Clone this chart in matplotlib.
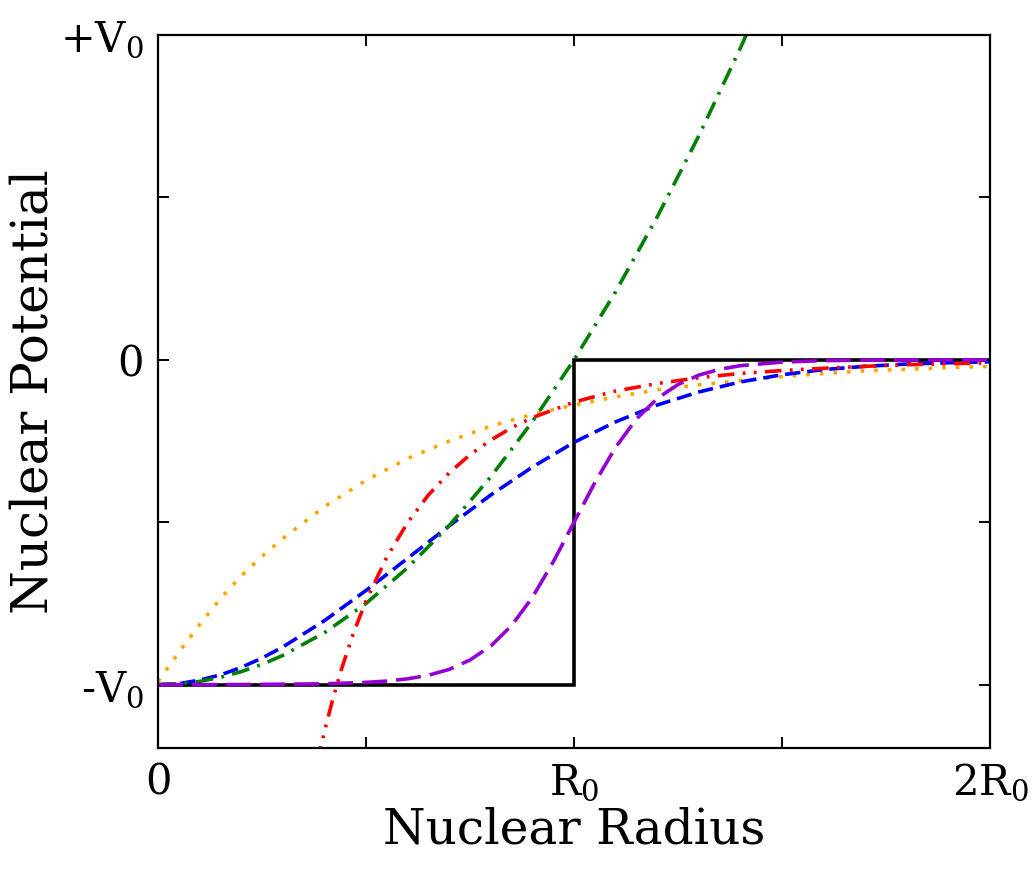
import numpy as np
import matplotlib
matplotlib.use('Agg')
import matplotlib.pyplot as plt

plt.rcParams['font.family'] = ['DejaVu Serif']
plt.rcParams['mathtext.fontset'] = 'dejavuserif'
plt.rcParams['lines.scale_dashes'] = False

# radius in units of R0, potential in units of V0
r_sq = [0.0, 1.0, 1.0, 2.0]
v_sq = [-1.0, -1.0, 0.0, 0.0]

r_orange = [0.0, 0.05, 0.1, 0.15, 0.2, 0.25, 0.3, 0.4, 0.5, 0.6, 0.7, 0.8, 0.9,
            1.0, 1.1, 1.2, 1.3, 1.4, 1.5, 1.6, 1.7, 1.8, 1.9, 2.0]
v_orange = [-0.99, -0.90, -0.815, -0.735, -0.665, -0.605, -0.55, -0.452, -0.371,
            -0.304, -0.250, -0.204, -0.168, -0.139, -0.114, -0.092, -0.077,
            -0.064, -0.052, -0.042, -0.034, -0.029, -0.024, -0.020]

r_blue = [0.0, 0.05, 0.1, 0.15, 0.2, 0.25, 0.3, 0.4, 0.5, 0.6, 0.7, 0.8, 0.9,
          1.0, 1.1, 1.2, 1.3, 1.4, 1.5, 1.6, 1.7, 1.8, 1.9, 2.0]
v_blue = [-1.0, -0.997, -0.986, -0.970, -0.947, -0.918, -0.884, -0.803, -0.710,
          -0.611, -0.511, -0.416, -0.330, -0.254, -0.191, -0.139, -0.099,
          -0.068, -0.046, -0.030, -0.020, -0.013, -0.009, -0.006]

r_green = [0.0, 0.05, 0.1, 0.15, 0.2, 0.25, 0.3, 0.4, 0.5, 0.6, 0.7, 0.8, 0.9,
           1.0, 1.1, 1.2, 1.3, 1.4, 1.5]
v_green = [-1.0, -0.9975, -0.99, -0.9775, -0.96, -0.9375, -0.91, -0.84, -0.75,
           -0.64, -0.51, -0.36, -0.19, 0.0, 0.21, 0.44, 0.69, 0.96, 1.25]

r_red = [0.36, 0.38, 0.40, 0.42, 0.44, 0.47, 0.50, 0.55, 0.60, 0.65, 0.70, 0.75,
         0.80, 0.85, 0.90, 1.0, 1.1, 1.2, 1.3, 1.4, 1.5, 1.6, 1.7, 1.8, 1.9, 2.0]
v_red = [-1.382, -1.256, -1.144, -1.045, -0.956, -0.840, -0.742, -0.607, -0.501,
         -0.416, -0.348, -0.292, -0.247, -0.209, -0.178, -0.130, -0.096, -0.073,
         -0.055, -0.042, -0.033, -0.026, -0.020, -0.015, -0.012, -0.009]

r_purple = [0.0, 0.2, 0.4, 0.5, 0.55, 0.6, 0.65, 0.7, 0.75, 0.8, 0.85, 0.9, 0.95,
            1.0, 1.05, 1.1, 1.15, 1.2, 1.25, 1.3, 1.35, 1.4, 1.5, 1.6, 1.7,
            1.8, 2.0]
v_purple = [-1.0, -0.9997, -0.9975, -0.993, -0.989, -0.982, -0.971, -0.953,
            -0.924, -0.881, -0.818, -0.731, -0.622, -0.5, -0.378, -0.269,
            -0.182, -0.119, -0.076, -0.047, -0.029, -0.018, -0.007, -0.0025,
            -0.001, -0.0003, 0.0]

x_ticks = [0, 0.5, 1, 1.5, 2]
x_labels = ['0', '', r'R$_0$', '', r'2R$_0$']
y_ticks = [-1, -0.5, 0, 0.5, 1]
y_labels = [r'-V$_0$', '', '0', '', r'+V$_0$']

fig = plt.figure(figsize=(10.33, 8.73), dpi=100)
ax = fig.add_axes([0.153, 0.1432, 0.8054, 0.8167])

lw = 2.6
ax.plot(r_sq, v_sq, color='black', lw=lw, solid_joinstyle='miter')
ax.plot(r_orange, v_orange, color='orange', lw=lw, dashes=(2.6, 7.2), dash_capstyle='butt')
ax.plot(r_blue, v_blue, color='blue', lw=lw, dashes=(11, 5))
ax.plot(r_green, v_green, color='green', lw=lw, dashes=(13, 6, 2, 6))
ax.plot(r_red, v_red, color='red', lw=lw, dashes=(12, 6, 2, 6, 2, 6))
ax.plot(r_purple, v_purple, color='darkviolet', lw=lw, dashes=(18, 6.5))

ax.set_xlim(0, 2)
ax.set_ylim(-1.195, 1.0)
ax.set_xticks(x_ticks)
ax.set_xticklabels(x_labels)
ax.set_yticks(y_ticks)
ax.set_yticklabels(y_labels)
ax.tick_params(direction='in', length=8, width=1.4, top=True, right=True,
               labelsize=30, pad=10)
for s in ax.spines.values():
    s.set_linewidth(1.6)

ax.set_xlabel('Nuclear Radius', fontsize=35, labelpad=2)
ax.set_ylabel('Nuclear Potential', fontsize=36, labelpad=1)

plt.savefig('out.png', dpi=100)
